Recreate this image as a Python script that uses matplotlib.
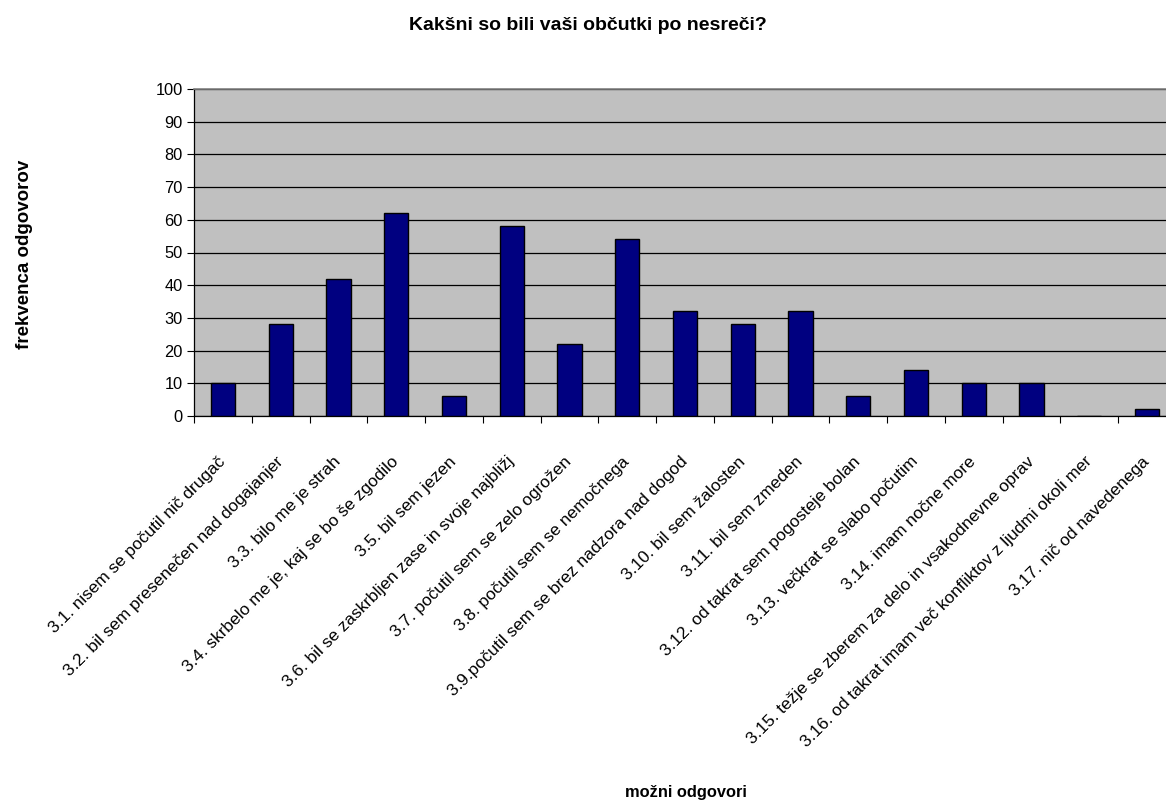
import matplotlib
matplotlib.use("Agg")
import matplotlib.pyplot as plt
import numpy as np

plt.rcParams['font.family'] = ['Liberation Sans', 'DejaVu Sans']

title = "Kakšni so bili vaši občutki po nesreči?"
ylabel = "frekvenca odgovorov"
xlabel = "možni odgovori"

categories = [
    "3.1. nisem se počutil nič drugač",
    "3.2. bil sem presenečen nad dogajanjer",
    "3.3. bilo me je strah",
    "3.4. skrbelo me je, kaj se bo še zgodilo",
    "3.5. bil sem jezen",
    "3.6. bil se zaskrbljen zase in svoje najbližj",
    "3.7. počutil sem se zelo ogrožen",
    "3.8. počutil sem se nemočnega",
    "3.9.počutil sem se brez nadzora nad dogod",
    "3.10. bil sem žalosten",
    "3.11. bil sem zmeden",
    "3.12. od takrat sem pogosteje bolan",
    "3.13. večkrat se slabo počutim",
    "3.14. imam nočne more",
    "3.15. težje se zberem za delo in vsakodnevne oprav",
    "3.16. od takrat imam več konfliktov z ljudmi okoli mer",
    "3.17. nič od navedenega",
]
values = [10, 28, 42, 62, 6, 58, 22, 54, 32, 28, 32, 6, 14, 10, 10, 0, 2]
yticks = [0, 10, 20, 30, 40, 50, 60, 70, 80, 90, 100]

W, H = 1166, 800
fig = plt.figure(figsize=(W / 100, H / 100), dpi=100)
left, right, top, bottom = 194, 1176, 89, 416
ax = fig.add_axes([left / W, 1 - bottom / H, (right - left) / W, (bottom - top) / H])
ax.set_facecolor('#C0C0C0')

x = np.arange(len(values))
ax.bar(x, values, width=0.42, color='#000080', edgecolor='black', linewidth=1.0, zorder=3)

ax.set_xlim(-0.5, len(values) - 0.5)
ax.set_ylim(0, 100)
ax.set_yticks(yticks)
ax.set_yticklabels([str(v) for v in yticks], fontsize=11.8)
ax.yaxis.grid(True, color='black', linewidth=0.9, zorder=1)
ax.tick_params(axis='y', direction='out', length=5, width=0.8, pad=3, colors='black')

# category boundary ticks (major), labels on minor ticks at centres
ax.set_xticks(np.arange(-0.5, len(values), 1.0))
ax.set_xticklabels([])
ax.tick_params(axis='x', which='major', direction='out', length=5, width=0.8)
ax.set_xticks(x, minor=True)
ax.set_xticklabels(categories, minor=True, rotation=45, rotation_mode='anchor',
                   ha='right', va='center', fontsize=12.4)
ax.tick_params(axis='x', which='minor', length=0, pad=31)

for s in ['left', 'bottom']:
    ax.spines[s].set_color('black')
    ax.spines[s].set_linewidth(0.9)
ax.spines['top'].set_color('#808080')
ax.spines['top'].set_linewidth(1.2)
ax.spines['right'].set_color('#808080')

fig.text(588 / W, 1 - 25 / H, title, ha='center', va='center', fontsize=14, fontweight='bold')
fig.text(25 / W, 1 - 254 / H, ylabel, ha='center', va='center', rotation=90,
         fontsize=13.5, fontweight='bold')
fig.text(686 / W, 1 - 792 / H, xlabel, ha='center', va='center', fontsize=11.8, fontweight='bold')

fig.savefig('out.png', dpi=100)
